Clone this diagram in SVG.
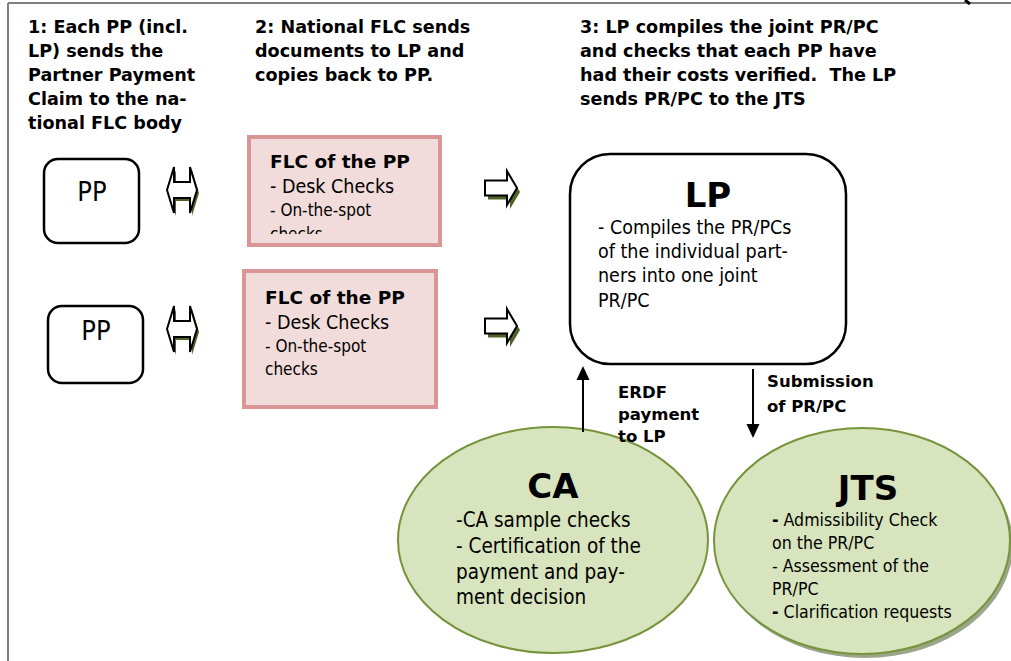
<svg xmlns="http://www.w3.org/2000/svg" width="1011" height="661" viewBox="0 0 1011 661">
<style>
.hd{font-family:"DejaVu Sans",Verdana,sans-serif;font-weight:bold;font-size:17.6px;fill:#000}
.lb{font-family:"DejaVu Sans",Verdana,sans-serif;font-weight:bold;font-size:16.5px;fill:#000}
.tt{font-family:"DejaVu Sans",Verdana,sans-serif;font-weight:bold;font-size:34px;fill:#000}
.rg{font-family:"DejaVu Sans Condensed","DejaVu Sans",sans-serif;font-size:19.5px;fill:#000}
.nw{font-family:"Liberation Sans Narrow","DejaVu Sans Condensed",sans-serif;font-size:17px;fill:#000}
.box{fill:#fff;stroke:#000;stroke-width:2.5}
.flc{fill:#f2dcdb;stroke:#d99694;stroke-width:4}
.ell{fill:#d7e4bd;stroke:#77933c;stroke-width:2}
.arr{fill:#fff;stroke:#000;stroke-width:2}
.shd{fill:#4f6228}
.con{stroke:#000;stroke-width:2;fill:none}
</style>
<defs>
<polygon id="dbl" points="-15,0 -8,-23 -8,-8 8,-8 8,-23 15,0 8,23 8,8 -8,8 -8,23"/>
<polygon id="rgt" points="0,-7.5 22,-7.5 22,-17 32,0 22,17 22,7.5 0,7.5"/>
<marker id="ah" markerWidth="14" markerHeight="14" refX="7" refY="7" orient="auto" markerUnits="userSpaceOnUse">
<path d="M0,0.5 L14,7 L0,13.5 Z" fill="#000"/>
</marker>
<clipPath id="c1"><rect x="249" y="137" width="191" height="97"/></clipPath>
</defs>
<g id="frame">
<line x1="8" y1="3" x2="1011" y2="3" stroke="#808080" stroke-width="2"/>
<line x1="8" y1="3" x2="8" y2="661" stroke="#808080" stroke-width="2"/>
<path d="M965,0 L970,4" stroke="#000" stroke-width="3"/>
</g>
<g id="headings">
<text class="hd" x="28" y="33">1: Each PP (incl.</text>
<text class="hd" x="28" y="57">LP) sends the</text>
<text class="hd" x="28" y="81">Partner Payment</text>
<text class="hd" x="28" y="105">Claim to the na-</text>
<text class="hd" x="28" y="129">tional FLC body</text>
<text class="hd" x="255" y="33">2: National FLC sends</text>
<text class="hd" x="255" y="57">documents to LP and</text>
<text class="hd" x="255" y="81">copies back to PP.</text>
<text class="hd" x="580" y="33">3: LP compiles the joint PR/PC</text>
<text class="hd" x="580" y="57">and checks that each PP have</text>
<text class="hd" x="580" y="81">had their costs verified.&#160; The LP</text>
<text class="hd" x="580" y="105">sends PR/PC to the JTS</text>
</g>
<g id="pp1">
<rect class="box" x="44" y="159" width="95" height="84" rx="14"/>
<text class="rg" x="92" y="201" text-anchor="middle" style="font-size:27px">PP</text>
</g>
<g id="pp2">
<rect class="box" x="48" y="306" width="95" height="77" rx="14"/>
<text class="rg" x="96" y="340" text-anchor="middle" style="font-size:27px">PP</text>
</g>
<g id="flc1">
<rect class="flc" x="249" y="137" width="191" height="108"/>
<g clip-path="url(#c1)">
<text class="hd" x="270" y="168" style="font-size:18.5px">FLC of the PP</text>
<text class="rg" x="270" y="193">- Desk Checks</text>
<text class="nw" x="270" y="216">- On-the-spot</text>
<text class="nw" x="270" y="240">checks</text>
</g>
</g>
<g id="flc2">
<rect class="flc" x="244" y="271" width="192" height="136"/>
<text class="hd" x="265" y="304" style="font-size:18.5px">FLC of the PP</text>
<text class="rg" x="265" y="329">- Desk Checks</text>
<text class="nw" x="265" y="352">- On-the-spot</text>
<text class="nw" x="265" y="375">checks</text>
</g>
<g id="lp">
<rect class="box" x="570" y="154" width="276" height="210" rx="40"/>
<text class="tt" x="708" y="207" text-anchor="middle">LP</text>
<text class="rg" x="598" y="234">- Compiles the PR/PCs</text>
<text class="rg" x="598" y="258">of the individual part-</text>
<text class="rg" x="598" y="282">ners into one joint</text>
<text class="rg" x="598" y="307">PR/PC</text>
</g>
<g id="ca">
<ellipse class="ell" cx="553" cy="540" rx="155" ry="113"/>
<text class="tt" x="553" y="498" text-anchor="middle">CA</text>
<text class="rg" x="456" y="527" style="font-size:20.5px">-CA sample checks</text>
<text class="rg" x="456" y="553" style="font-size:20.5px">- Certification of the</text>
<text class="rg" x="456" y="579" style="font-size:20.5px">payment and pay-</text>
<text class="rg" x="456" y="604" style="font-size:20.5px">ment decision</text>
</g>
<g id="jts">
<ellipse cx="865" cy="545" rx="148" ry="113" fill="#9aa58a"/>
<ellipse class="ell" cx="862" cy="541" rx="148" ry="113"/>
<text class="tt" x="868" y="500" text-anchor="middle">JTS</text>
<text class="rg" x="772" y="526" style="font-size:17.6px"><tspan font-weight="bold">-</tspan> Admissibility Check</text>
<text class="rg" x="772" y="549" style="font-size:17.6px">on the PR/PC</text>
<text class="rg" x="772" y="572" style="font-size:17.6px">- Assessment of the</text>
<text class="rg" x="772" y="595" style="font-size:17.6px">PR/PC</text>
<text class="rg" x="772" y="618" style="font-size:17.6px"><tspan font-weight="bold">-</tspan> Clarification requests</text>
</g>
<g id="connectors">
<use href="#dbl" class="shd" x="184" y="193"/>
<use href="#dbl" class="arr" x="182" y="190"/>
<use href="#dbl" class="shd" x="184" y="332"/>
<use href="#dbl" class="arr" x="182" y="329"/>
<use href="#rgt" class="shd" x="488" y="192"/>
<use href="#rgt" class="arr" x="485" y="188"/>
<use href="#rgt" class="shd" x="488" y="330"/>
<use href="#rgt" class="arr" x="485" y="326"/>
<line class="con" x1="583" y1="432" x2="583" y2="373" marker-end="url(#ah)"/>
<line class="con" x1="753" y1="369" x2="753" y2="431" marker-end="url(#ah)"/>
<text class="lb" x="618" y="398">ERDF</text>
<text class="lb" x="618" y="420">payment</text>
<text class="lb" x="618" y="442">to LP</text>
<text class="lb" x="767" y="387">Submission</text>
<text class="lb" x="767" y="412">of PR/PC</text>
</g>
</svg>
